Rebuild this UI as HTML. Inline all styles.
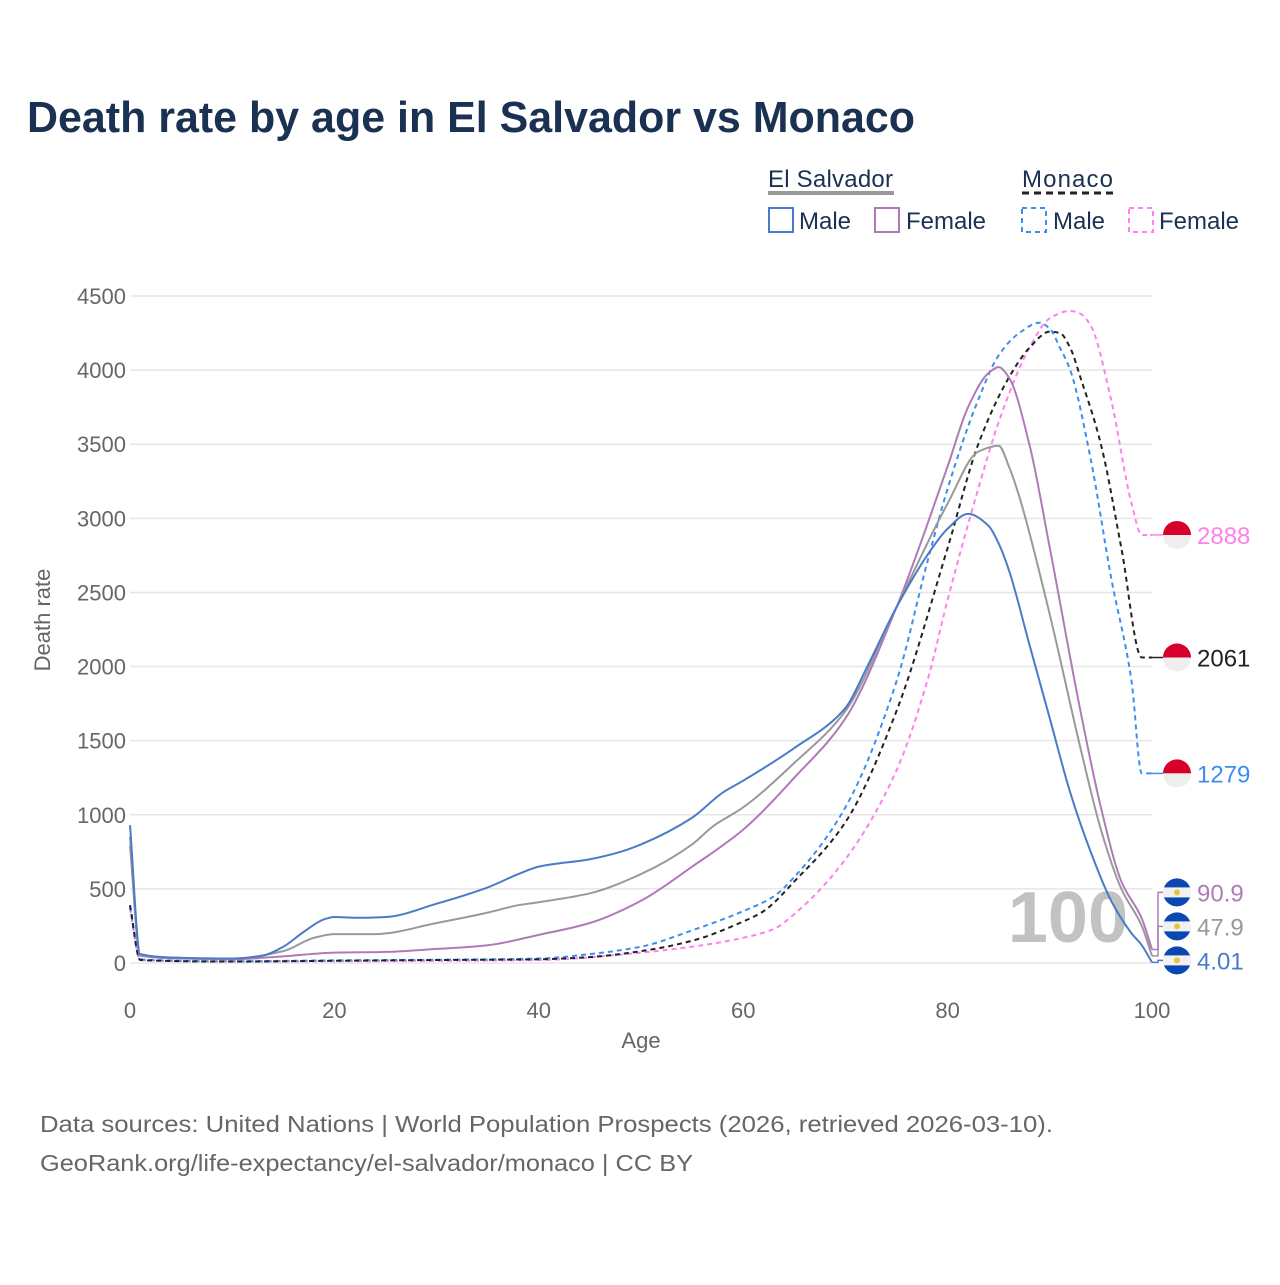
<!DOCTYPE html>
<html><head><meta charset="utf-8"><style>
body{margin:0;background:#fff;}
svg text{font-family:"Liberation Sans",sans-serif;}
</style></head><body>
<svg id="chart" width="1280" height="1280" viewBox="0 0 1280 1280" xmlns="http://www.w3.org/2000/svg">
<rect width="1280" height="1280" fill="#fff"/>
<text x="27" y="132" font-size="44" font-weight="bold" fill="#1b3152" textLength="888" lengthAdjust="spacingAndGlyphs">Death rate by age in El Salvador vs Monaco</text>
<g font-size="24" fill="#1b3152">
<text x="768" y="187" fill="#1b3152" textLength="125">El Salvador</text>
<line x1="768" y1="193" x2="894" y2="193" stroke="#999" stroke-width="4"/>
<text x="1022" y="187" fill="#1b3152" textLength="91">Monaco</text>
<line x1="1022" y1="193" x2="1113" y2="193" stroke="#222" stroke-width="3" stroke-dasharray="7,5"/>
<rect x="769" y="208" width="24" height="24" fill="none" stroke="#4a7bc8" stroke-width="2"/>
<text x="799" y="229" fill="#1b3152">Male</text>
<rect x="875" y="208" width="24" height="24" fill="none" stroke="#b07ab8" stroke-width="2"/>
<text x="906" y="229" fill="#1b3152">Female</text>
<rect x="1022" y="208" width="24" height="24" fill="none" stroke="#3d8ef0" stroke-width="2" stroke-dasharray="5,4"/>
<text x="1053" y="229" fill="#1b3152">Male</text>
<rect x="1129" y="208" width="24" height="24" fill="none" stroke="#ff80ee" stroke-width="2" stroke-dasharray="5,4"/>
<text x="1159" y="229" fill="#1b3152">Female</text>
</g>
<g id="grid"></g>
<text x="1128" y="942" font-size="72" font-weight="bold" fill="#c2c2c2" text-anchor="end">100</text>
<g id="series"></g>
<g id="labels"></g>
<text x="641" y="1048" font-size="22" fill="#666" text-anchor="middle">Age</text>
<text transform="translate(50,620) rotate(-90)" font-size="22" fill="#666" text-anchor="middle">Death rate</text>
<text x="40" y="1132" font-size="23" fill="#666" textLength="1013" lengthAdjust="spacingAndGlyphs">Data sources: United Nations | World Population Prospects (2026, retrieved 2026-03-10).</text>
<text x="40" y="1171" font-size="23" fill="#666" textLength="653" lengthAdjust="spacingAndGlyphs">GeoRank.org/life-expectancy/el-salvador/monaco | CC BY</text>
</svg>
<script>
const yTicks=[0,500,1000,1500,2000,2500,3000,3500,4000,4500];
const xTicks=[0,20,40,60,80,100];
const esMaleAges=[0,1,5,10,13,15,17,19,20,22,25,30,35,38,40,45,48,50,55,58,60,65,70,72,75,78,80,82,84,85,86,88,90,92,94,96,98,99,100];
const esMale=[930,60,35,30,50,110,210,295,310,305,310,400,510,600,650,700,750,800,980,1150,1230,1450,1720,1980,2400,2750,2930,3030,2950,2830,2650,2150,1650,1150,750,420,200,120,4.01];
const esTotalAges=[0,1,5,10,15,18,20,24,30,35,38,40,45,50,55,57,60,65,70,75,80,83,85,86,87,90,93,95,97,99,100];
const esTotal=[850,55,35,30,80,170,195,195,270,340,390,410,470,600,800,920,1050,1350,1700,2400,3100,3450,3490,3350,3150,2350,1450,900,500,250,47.9];
const esFemaleAges=[0,1,5,10,15,20,25,30,35,40,45,50,55,60,65,70,75,80,82,84,85,86,88,90,93,95,97,99,100];
const esFemale=[790,50,30,25,45,70,75,95,120,190,270,420,650,900,1250,1650,2400,3350,3750,3980,4020,3950,3500,2800,1700,1050,550,300,90.9];
const mcTotalAges=[0,1,10,20,30,40,45,50,55,60,62,65,70,75,80,83,86,88,90,91,92,93,95,97,99,100];
const mcTotal=[390,20,10,15,20,25,40,80,150,280,350,550,950,1700,2800,3500,3950,4150,4260,4250,4150,3950,3500,2800,2061,2061];
const mcMaleAges=[0,1,10,20,30,40,45,50,55,60,63,65,70,75,78,80,83,85,87,89,90,91,92,94,96,98,99,100];
const mcMale=[380,25,12,18,22,30,60,110,220,350,450,580,1050,1900,2700,3200,3800,4100,4250,4320,4280,4150,4000,3400,2600,1900,1279,1279];
const mcFemaleAges=[0,1,10,20,30,40,50,55,60,63,65,70,75,78,80,83,85,88,90,92,93,94,96,98,99,100];
const mcFemale=[370,20,10,12,15,20,70,110,170,230,330,700,1300,1900,2450,3200,3650,4150,4350,4400,4380,4300,3800,3100,2888,2888];

const X=a=>130+a*10.22, Y=v=>963-v*0.14822;
const NS="http://www.w3.org/2000/svg";
function mk(t,attrs,parent){const e=document.createElementNS(NS,t);for(const k in attrs)e.setAttribute(k,attrs[k]);parent.appendChild(e);return e;}
const grid=document.getElementById('grid');
yTicks.forEach(v=>{
  const l=mk('line',{x1:130,x2:1152,y1:Y(v),y2:Y(v),stroke:'#e6e6e6','stroke-width':1.5},grid);
  
  
  const t=mk('text',{x:126,y:Y(v)+8,'font-size':22,fill:'#666','text-anchor':'end'},grid);
  t.textContent=v;
  
  
});
xTicks.forEach(a=>{
  const t=mk('text',{x:X(a),y:1018,'font-size':22,fill:'#666','text-anchor':'middle'},grid);
  t.textContent=a;
  
  
});
// monotone cubic (Fritsch-Carlson)
function path(ages,vals){
  const n=ages.length,xs=ages.map(X),ys=vals.map(Y);
  const d=[],m=new Array(n);
  for(let i=0;i<n-1;i++)d.push((ys[i+1]-ys[i])/(xs[i+1]-xs[i]));
  m[0]=d[0];m[n-1]=d[n-2];
  for(let i=1;i<n-1;i++){
    if(d[i-1]*d[i]<=0)m[i]=0;
    else{const w1=2*(xs[i+1]-xs[i])+(xs[i]-xs[i-1]),w2=(xs[i+1]-xs[i])+2*(xs[i]-xs[i-1]);m[i]=(w1+w2)/(w1/d[i-1]+w2/d[i]);}
  }
  let s='M'+xs[0]+','+ys[0];
  for(let i=0;i<n-1;i++){
    const h=(xs[i+1]-xs[i])/3;
    s+=` C${xs[i]+h},${ys[i]+m[i]*h} ${xs[i+1]-h},${ys[i+1]-m[i+1]*h} ${xs[i+1]},${ys[i+1]}`;
  }
  return s;
}
const sg=document.getElementById('series');
const defs=[
 ['mc-female',mcFemaleAges,mcFemale,'#ff80ee','5,4'],
 ['mc-male',mcMaleAges,mcMale,'#3d8ef0','5,4'],
 ['mc-total',mcTotalAges,mcTotal,'#222','5,4'],
 ['es-female',esFemaleAges,esFemale,'#b07ab8',''],
 ['es-total',esTotalAges,esTotal,'#999',''],
 ['es-male',esMaleAges,esMale,'#4a7bc8','']
];
defs.forEach(s=>{
  const e=mk('path',{d:path(s[1],s[2]),fill:'none',stroke:s[3],'stroke-width':2},sg);
  if(s[4])e.setAttribute('stroke-dasharray',s[4]);
  
  
});
const lg=document.getElementById('labels');
function drawLabel(o,flag){
  const vy=Y(o.v);
  if(Math.abs(o.y-vy)>1) mk('polyline',{points:`1152,${vy} 1158,${vy} 1158,${o.y} 1164,${o.y}`,fill:'none',stroke:o.c,'stroke-width':1.5},lg);
  else mk('line',{x1:1150,y1:vy,x2:1164,y2:vy,stroke:o.c,'stroke-width':1.5},lg);
  const g=mk('g',{},lg);
  
  
  if(flag==='mc'){
    mk('path',{d:`M1163,${o.y} a14,14 0 0 1 28,0 z`,fill:'#d6002a'},g);
    mk('path',{d:`M1163,${o.y} a14,14 0 0 0 28,0 z`,fill:'#eee'},g);
  }else{
    mk('circle',{cx:1177,cy:o.y,r:14,fill:'#0a47b0'},g);
    mk('rect',{x:1163,y:o.y-5,width:28,height:10,fill:'#f2f2f2'},g);
    mk('circle',{cx:1177,cy:o.y,r:3,fill:'#e8c43a'},g);
  }
  const t=mk('text',{x:1197,y:o.y+9,'font-size':24,fill:o.c},g);
  t.textContent=o.t;
}
[{n:'mc-female',v:mcFemale[mcFemale.length-1],t:'2888',c:'#ff80ee'},
 {n:'mc-total',v:mcTotal[mcTotal.length-1],t:'2061',c:'#222'},
 {n:'mc-male',v:mcMale[mcMale.length-1],t:'1279',c:'#3d8ef0'}].forEach(o=>{o.y=Y(o.v);drawLabel(o,'mc');});
(function(){
  const arr=[{n:'es-female',v:esFemale[esFemale.length-1],t:'90.9',c:'#b07ab8'},
   {n:'es-total',v:esTotal[esTotal.length-1],t:'47.9',c:'#999'},
   {n:'es-male',v:esMale[esMale.length-1],t:'4.01',c:'#4a7bc8'}];
  arr.sort((a,b)=>a.v-b.v);
  let prev=1e9;
  arr.forEach(o=>{o.y=Math.min(Y(o.v)-2,prev-34);prev=o.y;});
  arr.forEach(o=>drawLabel(o,'es'));
})();
</script>
</body></html>
